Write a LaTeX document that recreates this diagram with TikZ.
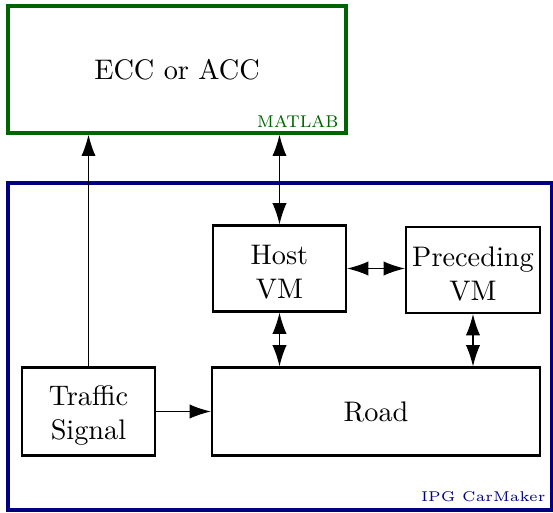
\documentclass[tikz,border=0pt]{standalone}
\usetikzlibrary{arrows.meta}
\definecolor{matgreen}{RGB}{0,100,0}
\definecolor{ipgblue}{RGB}{0,0,128}
\def\pxu{0.3535}
\begin{document}
\begin{tikzpicture}[x=0.3535pt,y=-0.3535pt,
  blockbox/.style={draw,line width=0.75pt,align=center,inner sep=0pt},
  twoline/.style={label={[align=center,inner sep=0pt,yshift=-1.4pt]center:#1}},
  conn/.style={line width=0.4pt,{Latex[length=7.5pt,width=5pt]}-{Latex[length=7.5pt,width=5pt]}},
  connone/.style={line width=0.4pt,-{Latex[length=7.5pt,width=5pt]}}]
\useasboundingbox (0,0) rectangle (553,513);
\node[draw=matgreen,line width=1.2pt,minimum width=338*\pxu pt,minimum height=127*\pxu pt,inner sep=0pt] (ecc) at (177,69.5) {ECC or ACC};
\node[anchor=base east,text=matgreen,inner sep=0pt,font=\footnotesize\scshape] (matlab) at (339,127) {matlab};
\node[draw=ipgblue,line width=1.2pt,minimum width=544*\pxu pt,minimum height=327*\pxu pt,inner sep=0pt] (ipg) at (280,346.5) {};
\node[anchor=base east,text=ipgblue,inner sep=0pt,font=\tiny] (ipglabel) at (546,502) {IPG CarMaker};
\node[blockbox,minimum width=133*\pxu pt,minimum height=86*\pxu pt,twoline={Host\\VM}] (host) at (279.5,268.5) {};
\node[blockbox,minimum width=134*\pxu pt,minimum height=86*\pxu pt,twoline={Preceding\\VM}] (prec) at (473,270) {};
\node[blockbox,minimum width=328*\pxu pt,minimum height=88*\pxu pt] (road) at (376,411.5) {Road};
\node[blockbox,minimum width=133*\pxu pt,minimum height=88*\pxu pt,twoline={Traffic\\Signal}] (traffic) at (88.5,411.5) {};
\draw[connone] (traffic.north) -- (traffic.north |- ecc.south);
\draw[conn] (host.north) -- (host.north |- ecc.south);
\draw[conn] (host.east) -- (host.east -| prec.west);
\draw[conn] (host.south) -- (host.south |- road.north);
\draw[conn] (prec.south) -- (prec.south |- road.north);
\draw[connone] (traffic.east) -- (traffic.east -| road.west);
\end{tikzpicture}
\end{document}
